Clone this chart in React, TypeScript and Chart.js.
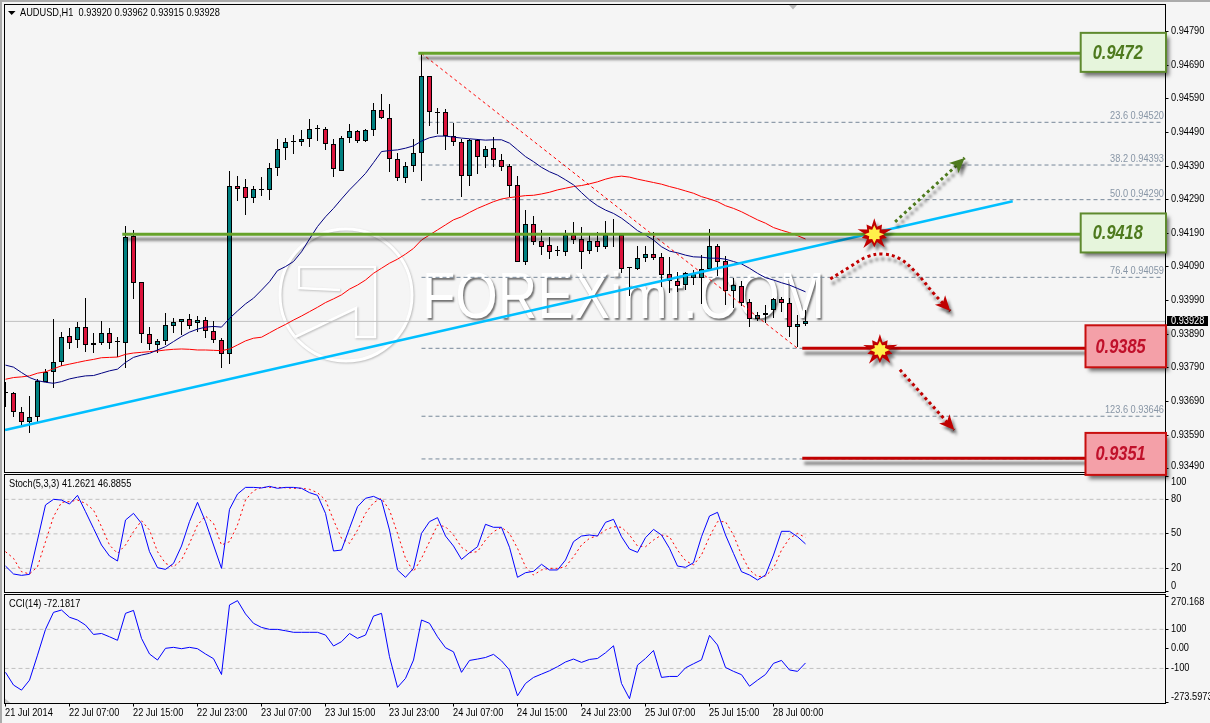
import React, { useEffect, useRef } from 'react';
import { Chart, registerables } from 'chart.js';
Chart.register(...registerables);

const title = 'AUDUSD,H1  0.93920 0.93962 0.93915 0.93928';
const stochTitle = 'Stoch(5,3,3) 41.2621 46.8855';
const cciTitle = 'CCI(14) -72.1817';
const lastPriceText = '0.93928';
const lastPrice = 0.93928;

const timeLabels = ['21 Jul 2014', '22 Jul 07:00', '22 Jul 15:00', '22 Jul 23:00', '23 Jul 07:00', '23 Jul 15:00', '23 Jul 23:00', '24 Jul 07:00', '24 Jul 15:00', '24 Jul 23:00', '25 Jul 07:00', '25 Jul 15:00', '28 Jul 00:00'];
const priceTicks = [0.9479, 0.9469, 0.9459, 0.9449, 0.9439, 0.9429, 0.9419, 0.9409, 0.9399, 0.9389, 0.9379, 0.9369, 0.9359, 0.9349];

// prices in points (1e-5)
const opens = [93715, 93716, 93660, 93630, 93645, 93749, 93777, 93808, 93886, 93872,
  93912, 93857, 93865, 93893, 93867, 93865, 94182, 94044, 93890, 93859,
  93869, 93915, 93925, 93934, 93922, 93931, 93899, 93872, 93830, 94331,
  94327, 94294, 94319, 94320, 94383, 94443, 94461, 94461, 94469, 94499,
  94499, 94455, 94376, 94473, 94493, 94465, 94496, 94556, 94532, 94412,
  94353, 94389, 94428, 94658, 94549, 94550, 94480, 94461, 94361, 94467,
  94418, 94443, 94407, 94389, 94333, 94106, 94217, 94166, 94154, 94137,
  94135, 94185, 94172, 94138, 94167, 94150, 94185, 94185, 94087, 94085,
  94116, 94128, 94119, 94068, 94047, 94037, 94056, 94056, 94085, 94151,
  94108, 94018, 94034, 93985, 93934, 93946, 93961, 93994, 93982, 93911, 93920];
const closes = [93715, 93660, 93628, 93645, 93752, 93777, 93808, 93883, 93865, 93912,
  93857, 93865, 93893, 93865, 93867, 94178, 94043, 93890, 93862, 93869,
  93916, 93925, 93934, 93915, 93931, 93899, 93872, 93830, 94331, 94323,
  94294, 94321, 94319, 94383, 94440, 94461, 94461, 94469, 94499, 94499,
  94455, 94380, 94473, 94493, 94464, 94496, 94556, 94532, 94410, 94353,
  94389, 94428, 94658, 94550, 94549, 94480, 94461, 94361, 94467, 94418,
  94441, 94407, 94388, 94332, 94106, 94217, 94165, 94150, 94135, 94137,
  94185, 94170, 94135, 94167, 94150, 94185, 94185, 94085, 94087, 94116,
  94128, 94117, 94067, 94047, 94034, 94071, 94068, 94085, 94151, 94106,
  94019, 94035, 93984, 93934, 93946, 93952, 93994, 93982, 93911, 93920, 93928];
const highs = [93749, 93718, 93674, 93706, 93756, 93786, 93934, 93896, 93907, 93925,
  93997, 93893, 93929, 93907, 93883, 94212, 94200, 94044, 93911, 93876,
  93952, 93937, 93934, 93949, 93944, 93940, 93929, 93878, 94375, 94360,
  94351, 94331, 94358, 94398, 94469, 94473, 94482, 94497, 94530, 94512,
  94507, 94469, 94479, 94515, 94497, 94500, 94576, 94604, 94574, 94430,
  94401, 94469, 94725, 94658, 94562, 94560, 94519, 94469, 94469, 94469,
  94450, 94477, 94425, 94396, 94360, 94259, 94241, 94200, 94180, 94152,
  94200, 94224, 94208, 94185, 94195, 94227, 94233, 94185, 94091, 94152,
  94152, 94195, 94131, 94119, 94074, 94074, 94081, 94125, 94203, 94158,
  94122, 94058, 94047, 93994, 93957, 93976, 93997, 94001, 93997, 93947, 93962];
const lows = [93674, 93645, 93618, 93596, 93628, 93749, 93729, 93795, 93846, 93850,
  93838, 93835, 93857, 93846, 93821, 93789, 93995, 93865, 93843, 93833,
  93858, 93893, 93888, 93906, 93897, 93880, 93865, 93790, 93801, 94287,
  94245, 94281, 94302, 94289, 94361, 94408, 94426, 94450, 94448, 94465,
  94438, 94358, 94376, 94459, 94458, 94462, 94479, 94529, 94373, 94346,
  94339, 94372, 94346, 94509, 94485, 94438, 94450, 94299, 94332, 94366,
  94385, 94388, 94376, 94299, 94106, 94096, 94155, 94125, 94114, 94123,
  94122, 94158, 94084, 94128, 94135, 94142, 94150, 94071, 94004, 94081,
  94106, 94111, 94031, 94012, 94016, 94021, 94036, 93980, 94085, 94063,
  93977, 93969, 93974, 93912, 93929, 93922, 93937, 93957, 93883, 93851, 93915];

const maFast = [93798, 93792, 93776, 93761, 93752, 93747, 93744, 93749, 93757, 93762,
  93766, 93767, 93774, 93781, 93786, 93806, 93821, 93828, 93833, 93843,
  93853, 93868, 93883, 93896, 93905, 93911, 93913, 93911, 93937, 93959,
  93980, 93997, 94021, 94046, 94079, 94091, 94106, 94135, 94173, 94210,
  94239, 94264, 94292, 94319, 94343, 94368, 94400, 94433, 94436, 94438,
  94443, 94450, 94464, 94474, 94479, 94479, 94476, 94473, 94471, 94469,
  94467, 94468, 94468, 94458, 94438, 94418, 94403, 94386, 94373, 94363,
  94349, 94334, 94311, 94289, 94272, 94259, 94249, 94235, 94217, 94198,
  94185, 94170, 94150, 94137, 94132, 94125, 94120, 94119, 94116, 94116,
  94113, 94106, 94099, 94086, 94071, 94058, 94051, 94043, 94036, 94026, 94016];
const maSlow = [93756, 93761, 93763, 93766, 93774, 93778, 93787, 93796, 93801, 93806,
  93811, 93815, 93820, 93821, 93822, 93830, 93834, 93836, 93838, 93840,
  93843, 93845, 93846, 93845, 93843, 93843, 93842, 93841, 93846, 93858,
  93870, 93878, 93881, 93894, 93907, 93919, 93932, 93944, 93957, 93970,
  93984, 93995, 94007, 94024, 94036, 94051, 94071, 94086, 94101, 94113,
  94128, 94145, 94170, 94185, 94200, 94215, 94230, 94239, 94252, 94264,
  94274, 94284, 94292, 94296, 94299, 94302, 94303, 94307, 94312, 94319,
  94324, 94329, 94332, 94337, 94343, 94351, 94357, 94360, 94357, 94351,
  94346, 94341, 94336, 94329, 94323, 94316, 94309, 94299, 94292, 94284,
  94272, 94264, 94254, 94242, 94230, 94220, 94207, 94199, 94192, 94183, 94173];

const stochMain = [22, 15.1, 13.9, 14.8, 44.6, 75.1, 80, 79.4, 75.9, 83.5,
  69.3, 54.8, 40.3, 30.7, 26.4, 62, 67.8, 59.1, 34.5, 20.6,
  19.1, 24.3, 39.4, 60.6, 77.4, 60.6, 40.3, 20, 71.3, 84.6,
  90.4, 90.4, 89.9, 91.3, 89.6, 90.4, 90.4, 89.6, 85.8, 83.5,
  67.8, 35.1, 35.9, 54.8, 73.6, 80.9, 82.6, 79.4, 53.3, 18.6,
  12.2, 20, 50.4, 60.6, 64.1, 48.1, 39.4, 27.8, 33.6, 38.8,
  58.3, 55.7, 55.7, 38.3, 12.2, 16.2, 17.4, 23.5, 18.6, 18.6,
  27.2, 43.2, 48.1, 49, 48.1, 60, 62.6, 47.5, 36.8, 33.9,
  46.7, 53.9, 49, 37.4, 22, 20.9, 24.9, 47.5, 65.5, 68.7,
  49, 33, 17.1, 14.2, 9.9, 14.2, 31.6, 52.2, 52.2, 47.5, 41.26];
const stochSignal = [34.5, 28.7, 17.1, 15.1, 21.4, 43.2, 64.9, 77.4, 78, 79.4,
  76.5, 70.7, 56.2, 40.3, 33, 40.3, 51.9, 61.4, 53.3, 34.5,
  24.3, 21.4, 27.2, 41.7, 57.7, 65.5, 59.1, 40.3, 43.2, 57.7,
  79.4, 87.5, 90.4, 90.4, 90.4, 90.1, 89.6, 89.6, 88.7, 85.8,
  79.4, 62, 46.1, 41.7, 53.3, 67.8, 77.1, 80.9, 70.7, 50.4,
  28.7, 17.1, 28.7, 43.2, 57.7, 56.2, 49, 38.3, 33.6, 34.5,
  44.6, 51.9, 55.7, 50.4, 37.4, 21.4, 14.2, 18.6, 20, 20,
  21.4, 30.1, 40.3, 46.1, 48.4, 53.3, 56.2, 55.7, 49, 39.4,
  38.8, 44.6, 49, 47.5, 35.9, 26.7, 22.9, 31.6, 47.5, 60.6,
  60.6, 49, 31.6, 18.6, 12.8, 13.3, 20, 35.9, 46.1, 50.4, 46.89];
const cciValues = [-120, -185, -211, -160, -32, 100, 187, 199, 162, 148,
  122, 74, 79, 62, 44, 182, 197, 54, -26, -57,
  3, 8, 1, 8, 1, -26, -50, -131, 225, 247,
  179, 131, 110, 100, 100, 93, 85, 85, 85, 85,
  71, 15, 37, 79, 54, 71, 168, 182, -40, -197,
  -151, -57, 148, 131, 62, 6, -15, -120, -59, -52,
  -44, -28, -61, -108, -240, -177, -146, -129, -112, -91,
  -67, -52, -69, -54, -49, -20, 16, -177, -255, -83,
  -49, -8, -146, -141, -141, -97, -76, -56, 69, 20,
  -95, -115, -132, -191, -160, -131, -74, -59, -108, -115, -72];

const fibPercents = ['23.6', '38.2', '50.0', '76.4', '123.6'];
const fibPrices = [0.9452, 0.94393, 0.9429, 0.94059, 0.93646];
const fibHiddenPrices = [0.93848, 0.93519];
const fibStart = 52;
const fibEnd = 144.7;
const fibTrendX = [52, 99];
const fibTrendY = [0.94725, 0.93848];
const trendX = [-0.05, 125.9];
const trendY = [0.93605, 0.94285];

const greenLevels = [0.94725, 0.94187];
const greenLineStart = [52, 14.6];
const redLevels = [0.93848, 0.93521];
const redLineStart = 99.6;
const greenBoxEnd = 134.4;
const redBoxEnd = 135;

const boxTexts = ['0.9472', '0.9418', '0.9385', '0.9351'];
const boxPrices = [0.94728, 0.94191, 0.93854, 0.93534];

const arrowUpX = [111.2, 119.9];
const arrowUpY = [0.94224, 0.94414];
const arrowCurveX = [103.1, 105.6, 107.7, 109.7, 111.8, 113.9, 116, 118.1];
const arrowCurveY = [0.94054, 0.94091, 0.9412, 0.94128, 0.94114, 0.94071, 0.94012, 0.93959];
const arrowDownX = [111.8, 118.6];
const arrowDownY = [0.93784, 0.93605];
const burstX = [108.6, 109.3];
const burstY = [0.94187, 0.93843];

const stochLevels = [80, 50, 20];
const cciLevels = [100, -100];

const X_MIN = -0.125;
const X_MAX = 145;
const FONT = '"Liberation Sans",Arial,sans-serif';
const TEXT_FONT = `11px ${FONT}`;
const CONDENSE = 0.84;
const AXIS_W = 44.5;
const P = (v: number) => v / 1e5;
const TEAL = '#008080';
const CRIMSON = '#DC143C';
const GREEN = '#66A22A';
const DARKRED = '#C00000';

const hline = (y: number, x0: number, x1: number, extra: any) => ({
  type: 'line', data: [{ x: x0, y }, { x: x1, y }], pointRadius: 0, borderWidth: 1, ...extra,
});
const pts = (xs: number[], ys: number[]) => xs.map((x, i) => ({ x, y: ys[i] }));
const series = (vals: number[]) => vals.map((y, x) => ({ x, y }));

function label(c: any, text: string, x: number, y: number, color = '#000', align = 'left', sx = CONDENSE) {
  c.save();
  c.translate(x, y);
  c.scale(sx, 1);
  c.font = TEXT_FONT;
  c.fillStyle = color;
  c.textAlign = align;
  c.textBaseline = 'middle';
  c.fillText(text, 0, 0);
  c.restore();
}

const shadowPlugin = {
  id: 'dsShadow',
  beforeDatasetDraw(chart: any, args: any) {
    const ds = chart.data.datasets[args.index];
    if (ds.shadow) {
      const c = chart.ctx;
      c.save();
      c.shadowColor = 'rgba(0,0,0,0.5)';
      c.shadowBlur = 3;
      c.shadowOffsetX = 2;
      c.shadowOffsetY = 5;
    }
  },
  afterDatasetDraw(chart: any, args: any) {
    if (chart.data.datasets[args.index].shadow) chart.ctx.restore();
  },
};

const snapPlugin = {
  id: 'snapBars',
  afterDatasetsUpdate(chart: any) {
    chart.getSortedVisibleDatasetMetas().forEach((m: any) => {
      if (m.type !== 'bar') return;
      m.data.forEach((el: any) => {
        el.y = Math.round(el.y);
        el.base = Math.round(el.base);
        if (el.y === el.base) el.base = el.y + 1;
      });
    });
  },
};

const framePlugin = {
  id: 'frame',
  afterDraw(chart: any) {
    const { left, top, right, bottom } = chart.chartArea;
    const c = chart.ctx;
    c.save();
    c.strokeStyle = '#000';
    c.lineWidth = 1;
    c.strokeRect(left, top, right - left, bottom - top);
    c.restore();
  },
};

const axisTextPlugin = (caption?: string) => ({
  id: 'axisText',
  afterDraw(chart: any) {
    const c = chart.ctx;
    const s = chart.scales.y;
    const xs = chart.scales.x;
    const { top, bottom, right } = chart.chartArea;
    s.ticks.forEach((t: any) => {
      const y = Math.min(bottom - 7, Math.max(top + 7, s.getPixelForValue(t.value) - 0.5));
      label(c, t.label, right + 5.5, y);
    });
    if (xs.options.display) {
      xs.ticks.forEach((t: any) => {
        label(c, t.label, xs.getPixelForValue(t.value) - 0.5, bottom + 9);
      });
    }
    if (caption) label(c, caption, 9, top + 9);
  },
});

function star(c: any, x: number, y: number, radii: number[]) {
  c.beginPath();
  radii.forEach((r, i) => {
    const a = (i / radii.length) * Math.PI * 2 - Math.PI / 2;
    const px = x + Math.cos(a) * r * 1.1;
    const py = y + Math.sin(a) * r;
    if (i === 0) c.moveTo(px, py);
    else c.lineTo(px, py);
  });
  c.closePath();
  c.fill();
}

function arrowHead(c: any, fromX: number, fromY: number, x: number, y: number, color: string) {
  const a = Math.atan2(y - fromY, x - fromX);
  c.save();
  c.translate(x, y);
  c.rotate(a);
  c.fillStyle = color;
  c.shadowColor = 'rgba(0,0,0,0.45)';
  c.shadowBlur = 3;
  c.shadowOffsetX = 3;
  c.shadowOffsetY = 4;
  c.beginPath();
  c.moveTo(0, 0);
  c.lineTo(-15, -7);
  c.lineTo(-11, 0);
  c.lineTo(-15, 7);
  c.closePath();
  c.fill();
  c.restore();
}

const watermarkPlugin = {
  id: 'watermark',
  beforeDatasetsDraw(chart: any) {
    const c = chart.ctx;
    c.save();
    c.shadowColor = 'rgba(110,110,110,0.4)';
    c.shadowBlur = 2;
    c.shadowOffsetX = 1;
    c.shadowOffsetY = 1;
    c.strokeStyle = '#ffffff';
    c.lineWidth = 3;
    c.beginPath();
    c.arc(346, 295, 66, 0, Math.PI * 2);
    c.stroke();
    c.lineWidth = 2.5;
    c.beginPath();
    c.moveTo(340, 290);
    c.lineTo(299, 288);
    c.lineTo(299, 267);
    c.lineTo(375, 267);
    c.lineTo(375, 337);
    c.lineTo(356, 337);
    c.lineTo(356, 308);
    c.lineTo(295, 337);
    c.stroke();
    c.shadowColor = 'rgba(70,70,70,0.75)';
    c.shadowBlur = 2;
    c.shadowOffsetX = 1.5;
    c.shadowOffsetY = 1.5;
    c.font = `64px ${FONT}`;
    c.textBaseline = 'alphabetic';
    c.fillStyle = '#ffffff';
    c.fillText('FOREXimf.COM', 422, 318, 403);
    c.restore();
  },
};

const annotationPlugin = {
  id: 'annotations',
  afterDatasetsDraw(chart: any) {
    const c = chart.ctx;
    const xs = chart.scales.x;
    const ys = chart.scales.y;
    const X = (v: number) => xs.getPixelForValue(v);
    const Y = (v: number) => ys.getPixelForValue(v);
    c.save();
    const heads: [number[], number[], string][] = [
      [arrowUpX, arrowUpY, '#4E7A1E'],
      [arrowCurveX, arrowCurveY, DARKRED],
      [arrowDownX, arrowDownY, DARKRED],
    ];
    heads.forEach(([hx, hy, col]) => {
      const n = hx.length;
      arrowHead(c, X(hx[n - 2]), Y(hy[n - 2]), X(hx[n - 1]), Y(hy[n - 1]), col);
    });
    burstX.forEach((bx, i) => {
      const x = X(bx);
      const y = Y(burstY[i]);
      c.save();
      c.shadowColor = 'rgba(0,0,0,0.45)';
      c.shadowBlur = 3;
      c.shadowOffsetX = 3;
      c.shadowOffsetY = 4;
      c.fillStyle = DARKRED;
      star(c, x, y, [16, 8, 12, 8, 17, 8, 12, 8, 16, 8, 13, 8, 17, 8, 12, 8, 16, 8, 12, 8]);
      c.restore();
      c.fillStyle = '#FFF04A';
      star(c, x, y, [9, 5, 7, 5, 9, 5, 7, 5, 9, 5, 7, 5, 9, 5, 7, 5]);
    });
    fibPercents.forEach((p, i) => {
      label(c, `${p} ${fibPrices[i].toFixed(5)}`, 1164, Y(fibPrices[i]) - 6, '#8896A6', 'right');
    });
    c.restore();
  },
  afterDraw(chart: any) {
    const c = chart.ctx;
    const ys = chart.scales.y;
    const xs = chart.scales.x;
    const { top, right } = chart.chartArea;
    c.save();
    boxTexts.forEach((t, i) => {
      const isGreen = i < 2;
      const x0 = xs.getPixelForValue(isGreen ? greenBoxEnd : redBoxEnd);
      const x1 = right + 0.5;
      const h = isGreen ? 39 : 42;
      const y = ys.getPixelForValue(boxPrices[i]);
      c.save();
      c.shadowColor = 'rgba(0,0,0,0.55)';
      c.shadowBlur = 4;
      c.shadowOffsetX = 3;
      c.shadowOffsetY = 4;
      c.fillStyle = isGreen ? '#E6F5DC' : '#F4A0A8';
      c.fillRect(x0, y - h / 2, x1 - x0, h);
      c.restore();
      c.strokeStyle = isGreen ? '#5E8A2E' : '#C80F0F';
      c.lineWidth = 2;
      c.strokeRect(x0, y - h / 2, x1 - x0, h);
      c.save();
      c.translate(x0 + (isGreen ? 12 : 10), y + 1);
      c.scale(0.82, 1);
      c.fillStyle = isGreen ? '#4E7A1E' : '#C0102A';
      c.font = `italic bold 20px ${FONT}`;
      c.textAlign = 'left';
      c.textBaseline = 'middle';
      c.fillText(t, 0, 0);
      c.restore();
    });
    const py = Math.round(ys.getPixelForValue(lastPrice));
    c.fillStyle = '#000';
    c.fillRect(right + 1.5, py - 5, 41, 10);
    label(c, lastPriceText, right + 5.5, py, '#fff');
    label(c, title, 20, top + 8);
    c.fillStyle = '#000';
    c.beginPath();
    c.moveTo(8, 11);
    c.lineTo(15.5, 11);
    c.lineTo(11.7, 15);
    c.closePath();
    c.fill();
    c.fillStyle = '#b8b8b8';
    c.beginPath();
    c.moveTo(789, top + 0.5);
    c.lineTo(797, top + 0.5);
    c.lineTo(793, top + 5);
    c.closePath();
    c.fill();
    c.restore();
  },
};

const cornerPlugin = {
  id: 'corner',
  afterDraw(chart: any) {
    const c = chart.ctx;
    const { left, bottom } = chart.chartArea;
    c.save();
    c.fillStyle = '#c4c4c4';
    c.beginPath();
    c.moveTo(left + 0.5, bottom - 5);
    c.lineTo(left + 6, bottom - 0.5);
    c.lineTo(left + 0.5, bottom - 0.5);
    c.closePath();
    c.fill();
    c.restore();
  },
};

const xScale = (show: boolean, canvasBottomH: number) => ({
  type: 'linear',
  min: X_MIN,
  max: X_MAX,
  offset: false,
  display: show,
  afterFit(s: any) { if (show) s.height = canvasBottomH; },
  afterBuildTicks(s: any) { s.ticks = timeLabels.map((_, i) => ({ value: i * 8 })); },
  grid: { drawOnChartArea: false, drawTicks: true, tickLength: 3, color: '#000', offset: false },
  border: { display: false },
  ticks: { display: false, autoSkip: false, maxRotation: 0, minRotation: 0, callback: (v: number) => timeLabels[v / 8] },
});

const yScale = (min: number, max: number, tickVals: number[], fmt: (v: number) => string) => ({
  type: 'linear',
  position: 'right',
  min,
  max,
  afterFit(s: any) { s.width = AXIS_W; },
  afterBuildTicks(s: any) { s.ticks = tickVals.map((value) => ({ value })); },
  grid: { drawOnChartArea: false, drawTicks: true, tickLength: 3, color: '#000' },
  border: { display: false },
  ticks: { display: false, autoSkip: false, callback: fmt },
});

const baseOptions = (padding: any, scales: any) => ({
  responsive: false,
  animation: false,
  events: [],
  layout: { padding, autoPadding: false },
  plugins: { legend: { display: false }, tooltip: { enabled: false } },
  elements: { point: { radius: 0 } },
  scales,
});

const barBase = { type: 'bar', grouped: false, borderSkipped: false };

function buildMain(canvas: HTMLCanvasElement) {
  const h = canvas.height;
  return new Chart(canvas, {
    type: 'bar',
    data: {
      datasets: [
        { type: 'line', data: pts(arrowUpX, arrowUpY), borderColor: '#4E7A1E', borderWidth: 3, borderDash: [3, 3.2], pointRadius: 0, order: 0, shadow: true, clip: false },
        { type: 'line', data: pts(arrowCurveX, arrowCurveY), borderColor: DARKRED, borderWidth: 3, borderDash: [3, 3.2], pointRadius: 0, tension: 0.4, order: 0, shadow: true },
        { type: 'line', data: pts(arrowDownX, arrowDownY), borderColor: DARKRED, borderWidth: 3, borderDash: [3, 3.2], pointRadius: 0, order: 0, shadow: true },
        hline(greenLevels[0], greenLineStart[0] - 0.4, greenBoxEnd, { borderColor: GREEN, borderWidth: 3, order: 1, shadow: true }),
        hline(greenLevels[1], greenLineStart[1], greenBoxEnd, { borderColor: GREEN, borderWidth: 3, order: 1, shadow: true }),
        hline(redLevels[0], redLineStart, redBoxEnd, { borderColor: DARKRED, borderWidth: 3, order: 1, shadow: true }),
        hline(redLevels[1], redLineStart, redBoxEnd, { borderColor: DARKRED, borderWidth: 3, order: 1, shadow: true }),
        { type: 'line', data: pts(trendX, trendY), borderColor: '#00BFFF', borderWidth: 2.5, pointRadius: 0, order: 2 },
        { type: 'line', data: pts(fibTrendX, fibTrendY), borderColor: '#FF0000', borderWidth: 1, borderDash: [3, 3], pointRadius: 0, order: 3 },
        { type: 'line', data: series(maFast.map(P)), borderColor: '#000080', borderWidth: 1, pointRadius: 0, order: 3 },
        { type: 'line', data: series(maSlow.map(P)), borderColor: '#FF0000', borderWidth: 1, pointRadius: 0, order: 3 },
        {
          ...barBase,
          data: opens.map((o, i) => ({ x: i, y: [P(o), P(closes[i])] })),
          backgroundColor: opens.map((o, i) => (closes[i] >= o ? TEAL : CRIMSON)),
          borderColor: '#000', borderWidth: 1, maxBarThickness: 5, minBarLength: 1, order: 5,
        },
        {
          ...barBase,
          data: opens.map((_, i) => ({ x: i, y: [P(lows[i]), P(highs[i])] })),
          backgroundColor: '#000', borderWidth: 0, maxBarThickness: 1, order: 6,
        },
        ...[...fibPrices, ...fibHiddenPrices].map((v) =>
          hline(v, fibStart, fibEnd, { borderColor: '#778899', borderDash: [4, 3], order: 7 })),
        hline(lastPrice, X_MIN, X_MAX, { borderColor: '#C0C0C0', order: 8 }),
      ],
    } as any,
    options: baseOptions({ left: 4.5, top: 4.5, right: 0, bottom: h - 472.5 }, {
      x: xScale(false, 0),
      y: yScale(0.934787, 0.948703, priceTicks, (v: number) => v.toFixed(5)),
    }) as any,
    plugins: [snapPlugin, shadowPlugin, watermarkPlugin, framePlugin, axisTextPlugin(), annotationPlugin] as any,
  });
}

function buildStoch(canvas: HTMLCanvasElement) {
  return new Chart(canvas, {
    type: 'line',
    data: {
      datasets: [
        { data: series(stochMain), borderColor: '#0000FF', borderWidth: 1, order: 0 },
        { data: series(stochSignal), borderColor: '#FF0000', borderWidth: 1, borderDash: [2, 3], order: 1 },
        ...stochLevels.map((v) => hline(v, X_MIN, X_MAX, { borderColor: '#C0C0C0', borderDash: [4, 3], order: 2 })),
      ],
    } as any,
    options: baseOptions({ left: 4.5, top: 1.5, right: 0, bottom: 0.5 }, {
      x: xScale(false, 0),
      y: yScale(-1, 101.6, [100, 80, 50, 20, 0], (v: number) => String(v)),
    }) as any,
    plugins: [framePlugin, axisTextPlugin(stochTitle)] as any,
  });
}

function buildCci(canvas: HTMLCanvasElement) {
  return new Chart(canvas, {
    type: 'line',
    data: {
      datasets: [
        { data: series(cciValues), borderColor: '#0000FF', borderWidth: 1, order: 0 },
        ...cciLevels.map((v) => hline(v, X_MIN, X_MAX, { borderColor: '#C0C0C0', borderDash: [4, 3], order: 2 })),
      ],
    } as any,
    options: baseOptions({ left: 4.5, top: 1.5, right: 0, bottom: 0 }, {
      x: xScale(true, 19.5),
      y: yScale(-279.5, 278.5, [270.168, 100, 0, -100, -273.5973], (v: number) => (v === 0 ? '0.00' : String(v))),
    }) as any,
    plugins: [framePlugin, cornerPlugin, axisTextPlugin(cciTitle)] as any,
  });
}

const canvasStyle = (top: number, z: number): React.CSSProperties => ({ position: 'absolute', left: 0, top, zIndex: z, display: 'block' });

export default function App() {
  const mainRef = useRef<HTMLCanvasElement>(null);
  const stochRef = useRef<HTMLCanvasElement>(null);
  const cciRef = useRef<HTMLCanvasElement>(null);
  useEffect(() => {
    const a = buildMain(mainRef.current!);
    const b = buildStoch(stochRef.current!);
    const c = buildCci(cciRef.current!);
    return () => { a.destroy(); b.destroy(); c.destroy(); };
  }, []);
  return (
    <div style={{ position: 'fixed', left: 0, top: 0, width: 1210, height: 723, background: '#F5F5F5', overflow: 'hidden' }}>
      <div style={{ position: 'absolute', left: 0, top: 0, width: 1210, height: 2, background: '#ABABAB' }} />
      <div style={{ position: 'absolute', left: 0, top: 0, width: 2, height: 723, background: '#ABABAB' }} />
      <canvas ref={stochRef} width={1210} height={120} style={canvasStyle(473, 1)} />
      <canvas ref={cciRef} width={1210} height={130} style={canvasStyle(593, 1)} />
      <canvas ref={mainRef} width={1210} height={484} style={canvasStyle(0, 2)} />
    </div>
  );
}
